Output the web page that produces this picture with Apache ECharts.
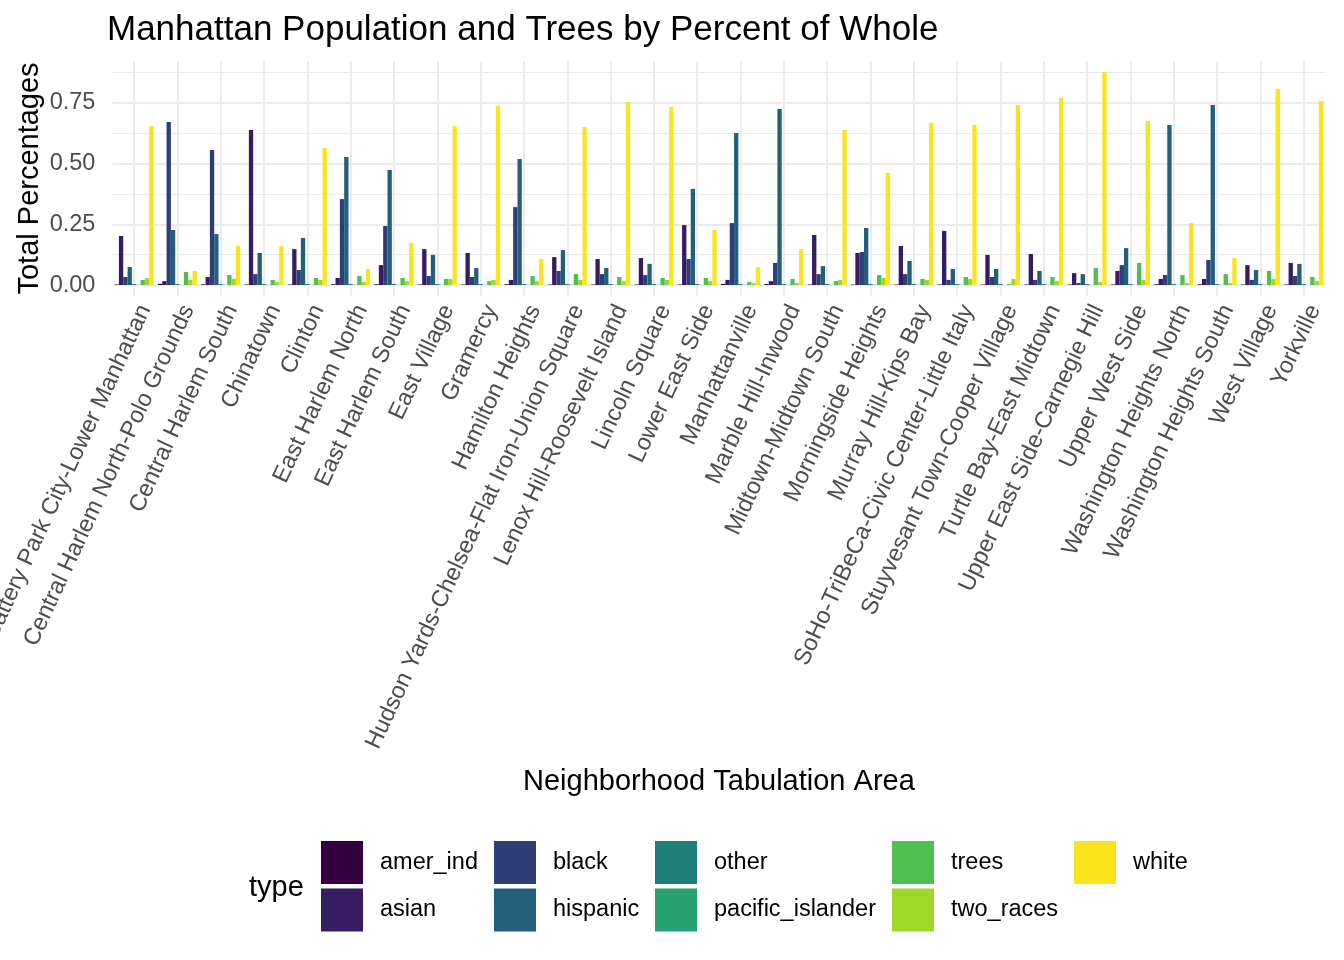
<!DOCTYPE html>
<html>
<head>
<meta charset="utf-8">
<script src="https://cdn.jsdelivr.net/npm/echarts@6/dist/echarts.min.js"></script>
<style>
html,body{margin:0;padding:0;background:#fff;}
#chart{width:1344px;height:960px;}
</style>
</head>
<body>
<div id="chart"></div>
<script>
const categories = [
  "Battery Park City-Lower Manhattan",
  "Central Harlem North-Polo Grounds",
  "Central Harlem South",
  "Chinatown",
  "Clinton",
  "East Harlem North",
  "East Harlem South",
  "East Village",
  "Gramercy",
  "Hamilton Heights",
  "Hudson Yards-Chelsea-Flat Iron-Union Square",
  "Lenox Hill-Roosevelt Island",
  "Lincoln Square",
  "Lower East Side",
  "Manhattanville",
  "Marble Hill-Inwood",
  "Midtown-Midtown South",
  "Morningside Heights",
  "Murray Hill-Kips Bay",
  "SoHo-TriBeCa-Civic Center-Little Italy",
  "Stuyvesant Town-Cooper Village",
  "Turtle Bay-East Midtown",
  "Upper East Side-Carnegie Hill",
  "Upper West Side",
  "Washington Heights North",
  "Washington Heights South",
  "West Village",
  "Yorkville"
];

const types = ["amer_ind","asian","black","hispanic","other","pacific_islander","trees","two_races","white"];

const amer_ind = [0.002,0.005,0.003,0.002,0.002,0.003,0.003,0.002,0.002,0.003,0.002,0.002,0.002,0.002,0.005,0.004,0.002,0.002,0.002,0.002,0.002,0.002,0.002,0.002,0.003,0.003,0.002,0.002];
const asian = [0.202,0.016,0.033,0.639,0.148,0.029,0.082,0.148,0.132,0.021,0.115,0.107,0.111,0.247,0.021,0.016,0.206,0.132,0.161,0.223,0.124,0.128,0.049,0.058,0.025,0.025,0.082,0.091];
const black = [0.033,0.672,0.556,0.045,0.062,0.354,0.243,0.037,0.033,0.321,0.058,0.045,0.041,0.107,0.255,0.091,0.045,0.136,0.045,0.021,0.033,0.021,0.008,0.082,0.041,0.103,0.021,0.037];
const hispanic = [0.074,0.227,0.210,0.132,0.194,0.527,0.474,0.124,0.070,0.519,0.144,0.070,0.087,0.396,0.626,0.725,0.078,0.235,0.099,0.066,0.066,0.058,0.045,0.152,0.659,0.742,0.062,0.087];
const other = [0.004,0.004,0.004,0.004,0.004,0.004,0.004,0.004,0.004,0.004,0.004,0.004,0.004,0.004,0.004,0.004,0.004,0.004,0.004,0.004,0.004,0.004,0.004,0.004,0.004,0.004,0.004,0.004];
const pacific_islander = [0.0005,0.0005,0.0005,0.0005,0.0005,0.0005,0.0005,0.0005,0.0005,0.0005,0.0005,0.0005,0.0005,0.0005,0.0005,0.0005,0.0005,0.0005,0.0005,0.0005,0.0005,0.0005,0.0005,0.0005,0.0005,0.0005,0.0005,0.0005];
const trees = [0.021,0.054,0.041,0.021,0.029,0.037,0.029,0.025,0.016,0.037,0.045,0.033,0.029,0.029,0.012,0.025,0.016,0.041,0.025,0.033,0.004,0.033,0.070,0.091,0.041,0.045,0.058,0.033];
const two_races = [0.029,0.021,0.025,0.012,0.021,0.012,0.016,0.025,0.021,0.016,0.021,0.016,0.021,0.016,0.008,0.008,0.021,0.029,0.021,0.025,0.025,0.016,0.012,0.021,0.008,0.008,0.025,0.016];
const white = [0.655,0.058,0.161,0.161,0.565,0.066,0.173,0.655,0.738,0.107,0.651,0.754,0.734,0.227,0.074,0.148,0.639,0.462,0.668,0.659,0.742,0.771,0.878,0.676,0.255,0.111,0.808,0.758];

const yTicks = [0, 0.25, 0.5, 0.75];
const yMinorTicks = [0.125, 0.375, 0.625, 0.875];
const yRange = [-0.044, 0.922];

const seriesValues = {amer_ind, asian, black, hispanic, other, pacific_islander, trees, two_races, white};
const colors = ["#35003F","#351C63","#2E3E77","#245F7A","#1F7E79","#25A172","#50BF4F","#9DD828","#FCE41D"];

const FONT = "'Liberation Sans', Arial, Helvetica, sans-serif";

const chart = echarts.init(document.getElementById('chart'), null, {renderer: 'canvas'});

const legendCols = [
  {left: 321, data: ["amer_ind","asian"]},
  {left: 494, data: ["black","hispanic"]},
  {left: 655, data: ["other","pacific_islander"]},
  {left: 892, data: ["trees","two_races"]},
  {left: 1074, data: ["white"]}
];

const option = {
  animation: false,
  backgroundColor: '#ffffff',
  color: colors,
  textStyle: {fontFamily: FONT},
  title: {
    text: 'Manhattan Population and Trees by Percent of Whole',
    left: 102,
    top: 8,
    textStyle: {fontFamily: FONT, fontSize: 35, fontWeight: 'normal', color: '#000'}
  },
  legend: legendCols.map(c => ({
    orient: 'vertical',
    left: c.left,
    top: 841,
    padding: 0,
    itemWidth: 42,
    itemHeight: 43,
    itemGap: 4.5,
    icon: 'rect',
    selectedMode: false,
    data: c.data,
    textStyle: {fontFamily: FONT, fontSize: 23.5, color: '#000', padding: [2, 0, 0, 12]}
  })),
  graphic: [{
    type: 'text',
    left: 249,
    top: 873,
    style: {text: 'type', fontFamily: FONT, fontSize: 29, fill: '#000'}
  }],
  grid: {left: 112.4, right: 18.6, top: 61.2, bottom: 664.3, containLabel: false, outerBoundsMode: 'none'},
  xAxis: {
    type: 'category',
    data: categories,
    boundaryGap: true,
    name: 'Neighborhood Tabulation Area',
    nameLocation: 'middle',
    nameGap: 472,
    nameTextStyle: {fontFamily: FONT, fontSize: 29, color: '#000'},
    axisLine: {show: false},
    axisTick: {show: false, alignWithLabel: true},
    axisLabel: {
      interval: 0,
      rotate: 65,
      margin: 5.5,
      align: 'right',
      verticalAlign: 'top',
      fontFamily: FONT,
      fontSize: 23.5,
      color: '#4D4D4D'
    },
    splitLine: {show: true, alignWithLabel: true, lineStyle: {color: '#EBEBEB', width: 2}}
  },
  yAxis: [{
    type: 'value',
    min: yRange[0],
    max: yRange[1],
    name: 'Total Percentages',
    nameLocation: 'middle',
    nameRotate: 90,
    nameGap: 68,
    nameMoveOverlap: false,
    nameTextStyle: {fontFamily: FONT, fontSize: 29, color: '#000'},
    axisLine: {show: false},
    axisTick: {show: false, customValues: yTicks},
    axisLabel: {
      margin: 17,
      customValues: yTicks,
      fontFamily: FONT,
      fontSize: 23.5,
      color: '#4D4D4D',
      formatter: v => Number(v).toFixed(2)
    },
    splitLine: {show: true, lineStyle: {color: '#EBEBEB', width: 2}}
  }, {
    type: 'value',
    min: yRange[0],
    max: yRange[1],
    position: 'left',
    axisLine: {show: false},
    axisTick: {show: false, customValues: yMinorTicks},
    axisLabel: {show: false, customValues: yMinorTicks},
    splitLine: {show: true, lineStyle: {color: '#EBEBEB', width: 1}}
  }],
  series: types.map(t => ({
    name: t,
    type: 'bar',
    yAxisIndex: 0,
    data: seriesValues[t],
    barWidth: '10%',
    barGap: '0%',
    itemStyle: {borderWidth: 0}
  }))
};

chart.setOption(option);
</script>
</body>
</html>
